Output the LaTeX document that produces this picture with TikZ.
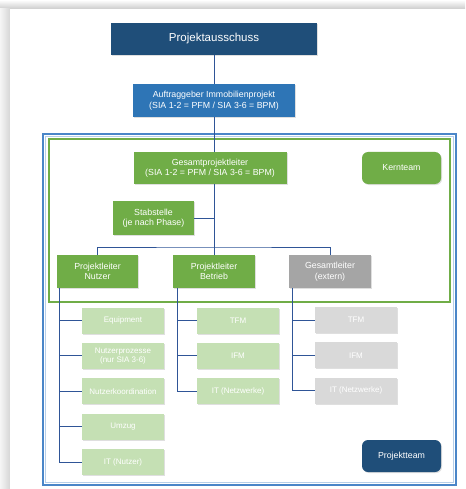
\documentclass[tikz,border=0pt]{standalone}
\usepackage{fontspec}
\setmainfont{Liberation Sans}
\usepackage{tikz}
\usetikzlibrary{calc,positioning,shadows}
\definecolor{darkblue}{HTML}{1F4E79}
\definecolor{midblue}{HTML}{2E75B6}
\definecolor{frameblue}{HTML}{4A86C8}
\definecolor{lineblue}{HTML}{2F5597}
\definecolor{kgreen}{HTML}{70AD47}
\definecolor{lgreen}{HTML}{C5E0B4}
\definecolor{kgray}{HTML}{A5A5A5}
\definecolor{lgray}{HTML}{D9D9D9}
\tikzset{%
	box/.style      = {rectangle, inner sep=0pt, align=center, text=white, font=\fontsize{8.8}{10.5}\selectfont,
	                   drop shadow={shadow xshift=1pt, shadow yshift=-1pt, opacity=0.25}},
	head/.style     = {box, fill=darkblue, minimum width=206, minimum height=32, font=\fontsize{11.5}{13}\selectfont}, % Ausschuss
	client/.style   = {box, fill=midblue, minimum width=162, minimum height=33}, % Auftraggeber
	lead/.style     = {box, fill=kgreen, minimum width=82, minimum height=33}, % Kernteam
	ext/.style      = {box, fill=kgray, minimum width=82, minimum height=33}, % extern
	sub/.style      = {box, fill=lgreen, minimum width=82, minimum height=26, font=\fontsize{8}{9.5}\selectfont},
	subx/.style     = {sub, fill=lgray},
	tag/.style      = {box, rounded corners=6pt, minimum width=79, minimum height=32}, % Legende
	link/.style     = {draw=lineblue, line width=0.9pt},
}

\begin{document}
\begin{tikzpicture}[x=1pt, y=-1pt, node distance=9pt]
		\useasboundingbox (0,0) rectangle (465,489);
		% page and shadow
		\fill[black!14] (0,0) rectangle (465,489);
		\shade[top color=white, bottom color=black!20] (0,0) rectangle (465,9);
		\shade[left color=black!4, right color=black!16] (0,9) rectangle (10,489);
		\fill[white] (10,9) rectangle (465,489);
		% frames
		\draw[frameblue, line width=1.3pt] (43,134) rectangle (456,485);
		\draw[frameblue!40, line width=0.5pt] (45.5,136.5) rectangle (453.5,482.5);
		\draw[kgreen, line width=1.3pt] (49,139) rectangle (450,302);
		% top of the tree
		\node[head] (pa) at (214,39) {Projektausschuss};
		\node[client] (ag) at (214,100.5) {Auftraggeber Immobilienprojekt\\(SIA 1-2 = PFM / SIA 3-6 = BPM)};
		\node[lead, minimum width=153, minimum height=32] (gpl) at (210,168) {Gesamtprojektleiter\\(SIA 1-2 = PFM / SIA 3-6 = BPM)};
		\node[lead, minimum width=81, minimum height=34] (stab) at (153.5,218) {Stabstelle\\(je nach Phase)};
		\node[tag, fill=kgreen] (kern) at (401.5,168) {Kernteam};
		\node[tag, fill=darkblue] (pt) at (401.5,456) {Projektteam};
		\coordinate (bus) at (214,247);
		% Projektleiter
		\node[lead, minimum width=81] (pln) at (97.5,271.5) {Projektleiter\\Nutzer};
		\node[lead] (plb) at (214,271.5) {Projektleiter\\Betrieb};
		\node[ext] (gl) at (330,271.5) {Gesamtleiter\\(extern)};
		% Nutzer
		\node[sub] (nu1) at (123,320.5) {Equipment};
		\node[sub, below=of nu1] (nu2) {Nutzerprozesse\\(nur SIA 3-6)};
		\node[sub, below=of nu2] (nu3) {Nutzerkoordination};
		\node[sub, below=of nu3] (nu4) {Umzug};
		\node[sub, below=of nu4] (nu5) {IT (Nutzer)};
		% Betrieb
		\node[sub] (be1) at (238,320.5) {TFM};
		\node[sub, below=of be1] (be2) {IFM};
		\node[sub, below=of be2] (be3) {IT (Netzwerke)};
		% extern
		\node[subx] (ex1) at (356,320) {TFM};
		\node[subx, below=of ex1] (ex2) {IFM};
		\node[subx, below=of ex2] (ex3) {IT (Netzwerke)};
		% connectors
		\draw[link] (pa) -- (ag);
		\draw[link] (ag.south) -- (ag.south |- gpl.north);
		\draw[link] (ag.south |- gpl.south) -- (bus);
		\draw[link] (stab.east) -- (stab.east -| bus);
		\draw[link] (pln.north) |- (bus) -| (gl.north);
		\draw[link] (bus) -- (plb.north);
		\draw[link] ([xshift=3pt]pln.south west) |- (nu1.west);
		\draw[link] ([xshift=3pt]pln.south west) |- (nu2.west);
		\draw[link] ([xshift=3pt]pln.south west) |- (nu3.west);
		\draw[link] ([xshift=3pt]pln.south west) |- (nu4.west);
		\draw[link] ([xshift=3pt]pln.south west) |- (nu5.west);
		\draw[link] ([xshift=5pt]plb.south west) |- (be1.west);
		\draw[link] ([xshift=5pt]plb.south west) |- (be2.west);
		\draw[link] ([xshift=5pt]plb.south west) |- (be3.west);
		\draw[link] ([xshift=4pt]gl.south west) |- (ex1.west);
		\draw[link] ([xshift=4pt]gl.south west) |- (ex2.west);
		\draw[link] ([xshift=4pt]gl.south west) |- (ex3.west);
\end{tikzpicture}
\end{document}
